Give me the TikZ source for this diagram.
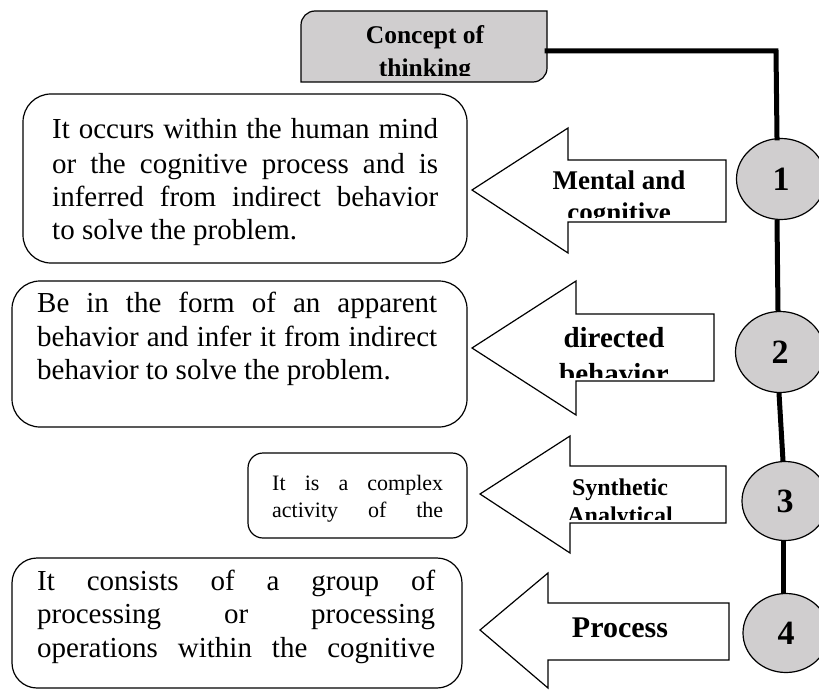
\documentclass[tikz,border=0pt]{standalone}
\usepackage{fontspec}
\setmainfont{Liberation Serif}
\usetikzlibrary{shapes.geometric}
\definecolor{boxgray}{HTML}{D0CECF}
\begin{document}
\begin{tikzpicture}[x=1pt,y=-1pt,
  txtbox/.style={draw=black,line width=1.2pt,rounded corners=28pt,inner sep=0pt},
  numcirc/.style={ellipse,draw=black,line width=1.2pt,fill=boxgray,inner sep=0pt,
     minimum width=89pt,minimum height=81pt,font=\fontsize{34}{36}\selectfont\bfseries},
  conn/.style={line width=5pt},
  blockarrow/.style={draw=black,line width=1.2pt,fill=white,line join=miter},
  bigtxt/.style={anchor=base west,inner sep=0pt,font=\fontsize{29}{33}\selectfont},
  smalltxt/.style={anchor=base west,inner sep=0pt,font=\fontsize{22}{26}\selectfont},
  lbl/.style={anchor=base,inner sep=0pt}]
\clip (0,0) rectangle (819,690);
\fill[white] (0,0) rectangle (819,690);

% top concept box
\draw[line width=1.2pt,fill=boxgray] (301,82) [rounded corners=14pt] -- (301,11) [sharp corners] -- (547,11) [rounded corners=14pt] -- (547,82) [sharp corners] -- cycle;
\coordinate (topR) at (547,51);
\coordinate (corner) at (776,51);
\begin{scope}
\clip (301,11) rectangle (547,76);
\node[lbl,font=\fontsize{25.5}{28}\selectfont\bfseries] (t1) at (425,44) {Concept of};
\node[lbl,font=\fontsize{25.5}{28}\selectfont\bfseries] (t2) at (425,77) {thinking};
\end{scope}

% circles
\node[numcirc] (c1) at (781,179) {1};
\node[numcirc] (c2) at (780,352) {2};
\node[numcirc,minimum width=86pt,minimum height=79pt] (c3) at (785,501) {3};
\node[numcirc,minimum width=86pt,minimum height=79pt] (c4) at (786,633) {4};

% connectors
\draw[conn,line cap=rect] (topR) -- (corner) -- ([xshift=-4pt]c1.north);
\draw[conn] ([xshift=-4pt]c1.south) -- ([xshift=-2pt]c2.north);
\draw[conn] ([xshift=-1pt]c2.south) -- ([xshift=-2pt]c3.north);
\draw[conn] ([xshift=-2pt]c3.south) -- ([xshift=-3pt]c4.north);

% text boxes
\node[txtbox,minimum width=444pt,minimum height=169pt] (b1) at (245,178.5) {};
\node[bigtxt] (b1l1) at (52,139) {\makebox[386pt][s]{It occurs within the human mind}};
\node[bigtxt] (b1l2) at (52,173) {\makebox[386pt][s]{or the cognitive process and is}};
\node[bigtxt] (b1l3) at (52,206) {\makebox[386pt][s]{inferred from indirect behavior}};
\node[bigtxt] (b1l4) at (52,239) {to solve the problem.};

\node[txtbox,minimum width=455pt,minimum height=146pt] (b2) at (239.5,354) {};
\node[bigtxt] (b2l1) at (37,312) {\makebox[400pt][s]{Be in the form of an apparent}};
\node[bigtxt] (b2l2) at (37,346) {\makebox[400pt][s]{behavior and infer it from indirect}};
\node[bigtxt] (b2l3) at (37,379) {behavior to solve the problem.};

\node[txtbox,rounded corners=15pt,minimum width=219pt,minimum height=85pt] (b3) at (357.5,495.5) {};
\node[smalltxt] (b3l1) at (272,490) {\makebox[171pt][s]{It is a complex}};
\node[smalltxt] (b3l2) at (272,517) {\makebox[171pt][s]{activity of the}};

\node[txtbox,rounded corners=25pt,minimum width=450pt,minimum height=130pt] (b4) at (237,623) {};
\node[bigtxt] (b4l1) at (37,590) {\makebox[398pt][s]{It consists of a group of}};
\node[bigtxt] (b4l2) at (37,623) {\makebox[398pt][s]{processing or processing}};
\node[bigtxt] (b4l3) at (37,657) {\makebox[398pt][s]{operations within the cognitive}};

% block arrows
\draw[blockarrow] (472,190) -- (568,128) -- (568,160) -- (726,160) -- (726,222) -- (568,222) -- (568,253) -- cycle;
\begin{scope}
\clip (480,150) rectangle (726,217);
\node[lbl,font=\fontsize{27}{30}\selectfont\bfseries] (a1t1) at (619,189) {Mental and};
\node[lbl,font=\fontsize{27}{30}\selectfont\bfseries] (a1t2) at (619,221) {cognitive};
\end{scope}

\draw[blockarrow] (472,348) -- (576,281) -- (576,314) -- (714,314) -- (714,381) -- (576,381) -- (576,415) -- cycle;
\begin{scope}
\clip (480,300) rectangle (714,377);
\node[lbl,font=\fontsize{29}{32}\selectfont\bfseries] (a2t1) at (614,347) {directed};
\node[lbl,font=\fontsize{29}{32}\selectfont\bfseries] (a2t2) at (614,383) {behavior};
\end{scope}

\draw[blockarrow] (480,494) -- (570,436) -- (570,466) -- (726,466) -- (726,523) -- (570,523) -- (570,553) -- cycle;
\begin{scope}
\clip (480,450) rectangle (726,519);
\node[lbl,font=\fontsize{24}{27}\selectfont\bfseries] (a3t1) at (620,495) {Synthetic};
\node[lbl,font=\fontsize{24}{27}\selectfont\bfseries] (a3t2) at (620,523) {Analytical};
\end{scope}

\draw[blockarrow] (480,630) -- (548,573) -- (548,603) -- (729,603) -- (729,660) -- (548,660) -- (548,688) -- cycle;
\node[lbl,font=\fontsize{30}{33}\selectfont\bfseries] (a4t1) at (620,637) {Process};
\end{tikzpicture}
\end{document}
